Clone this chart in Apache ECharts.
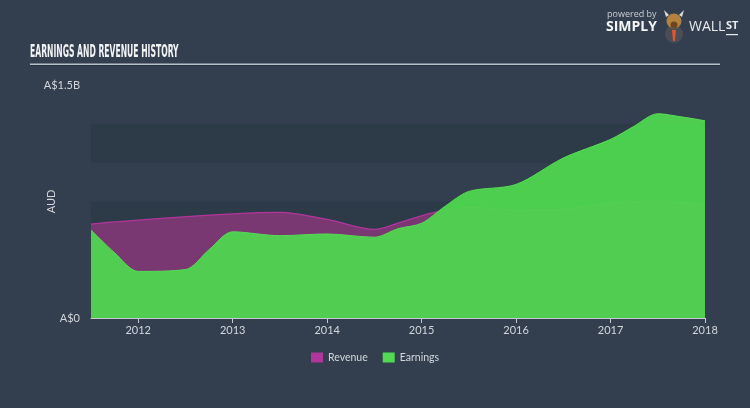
<!DOCTYPE html>
<html>
<head>
<meta charset="utf-8">
<script src="https://cdn.jsdelivr.net/npm/echarts@6/dist/echarts.min.js"></script>
<style>
html,body{margin:0;padding:0;background:#333f4f;}
#chart{width:750px;height:408px;}
</style>
</head>
<body>
<div id="chart"></div>
<script>
// ---- data (years as decimal, values in A$ billions) ----
var revenueYears  = [2011.5, 2013.5, 2014.0, 2014.5, 2014.8, 2015.1, 2015.5, 2016.0, 2016.5, 2017.0, 2017.5, 2018.0];
var revenueValues = [0.605,  0.68,   0.635,  0.57,   0.62,   0.675,  0.712,  0.695,  0.70,   0.74,   0.752,  0.728];
var earningsYears  = [2011.5, 2011.75, 2012.0, 2012.5, 2012.75, 2013.0, 2013.5, 2014.0, 2014.5, 2014.75, 2015.0, 2015.25, 2015.5, 2016.0, 2016.5, 2017.0, 2017.25, 2017.5, 2017.75, 2018.0];
var earningsValues = [0.567,  0.42,    0.30,   0.312,  0.44,    0.555,  0.53,   0.541,  0.52,   0.575,   0.61,   0.72,    0.815,  0.86,   1.03,   1.15,   1.235,   1.315,  1.295,   1.27];
var xTickYears = [2012, 2013, 2014, 2015, 2016, 2017, 2018];
var yTickLabels = {0: 'A$0', 1.5: 'A$1.5B'};

function pairs(xs, ys) { return xs.map(function (x, i) { return [x, ys[i]]; }); }

var chart = echarts.init(document.getElementById('chart'), null, {renderer: 'canvas'});
var labelColor = '#d3d7dc';
var fontFam = 'Lato, "Open Sans", sans-serif';

chart.setOption({
  backgroundColor: '#333f4f',
  animation: false,
  grid: {left: 91, right: 45, top: 85, bottom: 90},
  legend: {
    bottom: 40,
    left: 'center',
    itemWidth: 12,
    itemHeight: 10,
    itemGap: 15,
    icon: 'rect',
    textStyle: {color: labelColor, fontSize: 10.5, fontFamily: fontFam},
    data: ['Revenue', 'Earnings']
  },
  xAxis: {
    type: 'value',
    min: 2011.5,
    max: 2018,
    splitLine: {show: false},
    axisLine: {show: true, lineStyle: {color: '#c5cad0', width: 1}},
    axisTick: {show: true, length: 5, lineStyle: {color: '#c5cad0'}, customValues: xTickYears},
    axisLabel: {color: labelColor, fontSize: 11, fontFamily: fontFam, margin: 7, customValues: xTickYears,
      formatter: function (v) { return String(Math.round(v)); }}
  },
  yAxis: {
    type: 'value',
    min: 0,
    max: 1.5,
    interval: 0.25,
    name: 'AUD',
    nameLocation: 'middle',
    nameGap: 34,
    nameMoveOverlap: false,
    nameTextStyle: {color: labelColor, fontSize: 11, fontFamily: fontFam},
    axisLine: {show: false},
    axisTick: {show: false},
    splitLine: {show: false},
    splitArea: {show: true, areaStyle: {color: ['#2d3a48', 'rgba(0,0,0,0)']}},
    axisLabel: {color: labelColor, fontSize: 11, fontFamily: fontFam, margin: 11,
      formatter: function (v) { return yTickLabels[v] !== undefined ? yTickLabels[v] : ''; }}
  },
  series: [
    {
      name: 'Revenue',
      type: 'line',
      data: pairs(revenueYears, revenueValues),
      smooth: 0.3,
      showSymbol: false,
      itemStyle: {color: '#b0369c'},
      lineStyle: {color: '#b0369c', width: 1.3},
      areaStyle: {color: '#7a3872', opacity: 1},
      z: 2
    },
    {
      name: 'Earnings',
      type: 'line',
      data: pairs(earningsYears, earningsValues),
      smooth: 0.3,
      showSymbol: false,
      itemStyle: {color: '#52d852'},
      lineStyle: {color: '#55dc55', width: 1},
      areaStyle: {color: '#4fd84f', opacity: 0.94},
      z: 3
    }
  ],
  graphic: [
    {type: 'text', left: 30, top: 44, scaleX: 0.5,
      style: {text: 'EARNINGS AND REVENUE HISTORY', fill: '#f2f4f6', font: 'bold 17px "Liberation Sans Narrow", "DejaVu Sans Condensed", sans-serif'}},
    {type: 'rect', shape: {x: 30, y: 63.5, width: 690, height: 1.6}, style: {fill: '#b9c1c9'}},
    {type: 'rect', shape: {x: 30, y: 65.1, width: 690, height: 1}, style: {fill: '#253140'}},
    // logo
    {type: 'text', x: 607, y: 10, style: {text: 'powered by', fill: '#c9ced4', font: '9px "Open Sans", sans-serif'}},
    {type: 'text', x: 606, y: 20, style: {text: 'SIMPLY', fill: '#f4f5f7', font: 'bold 14px "Open Sans", sans-serif'}},
    {type: 'circle', shape: {cx: 674, cy: 34, r: 9}, style: {fill: '#4a4f57'}},
    {type: 'polygon', shape: {points: [[672, 30], [676, 30], [675, 41], [673, 41]]}, style: {fill: '#e0562a'}},
    {type: 'circle', shape: {cx: 674, cy: 21, r: 7.5}, style: {fill: '#b5813e'}},
    {type: 'circle', shape: {cx: 674, cy: 25, r: 3.5}, style: {fill: '#6b4524'}},
    {type: 'polygon', shape: {points: [[666, 17], [664, 10], [669, 15]]}, style: {fill: '#ddd'}},
    {type: 'polygon', shape: {points: [[682, 17], [684, 10], [679, 15]]}, style: {fill: '#ddd'}},
    {type: 'text', x: 689, y: 20, style: {text: 'WALL', fill: '#e8eaed', font: '14px "Open Sans", sans-serif'}},
    {type: 'text', x: 726, y: 20, style: {text: 'ST', fill: '#e8eaed', font: 'bold 11px "Open Sans", sans-serif'}},
    {type: 'rect', shape: {x: 726, y: 34, width: 12, height: 1.2}, style: {fill: '#e8eaed'}}
  ]
});
</script>
</body>
</html>
